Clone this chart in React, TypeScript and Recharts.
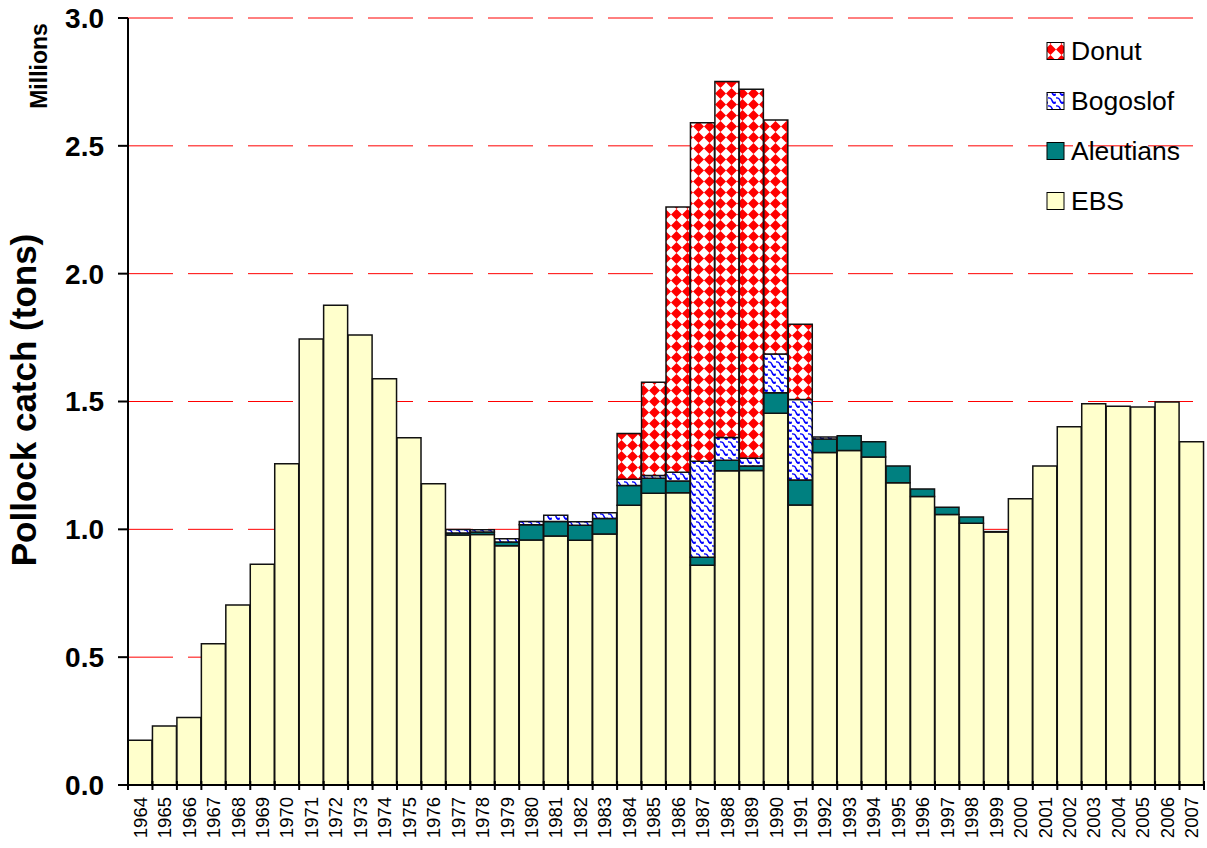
import React from 'react';
import { BarChart, Bar, XAxis, YAxis, CartesianGrid } from 'recharts';

const years = [
  '1964', '1965', '1966', '1967', '1968', '1969', '1970', '1971', '1972', '1973', '1974',
  '1975', '1976', '1977', '1978', '1979', '1980', '1981', '1982', '1983', '1984', '1985',
  '1986', '1987', '1988', '1989', '1990', '1991', '1992', '1993', '1994', '1995', '1996',
  '1997', '1998', '1999', '2000', '2001', '2002', '2003', '2004', '2005', '2006', '2007',
];

// Millions of tons
const ebs = [
  0.175, 0.231, 0.264, 0.552, 0.704, 0.863, 1.257, 1.744, 1.876, 1.760, 1.589,
  1.358, 1.178, 0.978, 0.980, 0.936, 0.958, 0.974, 0.957, 0.982, 1.094, 1.141,
  1.143, 0.860, 1.229, 1.230, 1.454, 1.095, 1.301, 1.308, 1.283, 1.182, 1.128,
  1.058, 1.024, 0.990, 1.120, 1.248, 1.401, 1.491, 1.481, 1.478, 1.498, 1.343,
];

const aleutians = [
  0, 0, 0, 0, 0, 0, 0, 0, 0, 0, 0,
  0, 0, 0.008, 0.010, 0.014, 0.060, 0.057, 0.059, 0.060, 0.077, 0.059,
  0.046, 0.031, 0.041, 0.018, 0.080, 0.098, 0.052, 0.058, 0.060, 0.066, 0.030,
  0.028, 0.024, 0.001, 0, 0, 0, 0, 0, 0, 0, 0,
];

const bogoslof = [
  0, 0, 0, 0, 0, 0, 0, 0, 0, 0, 0,
  0, 0, 0.013, 0.008, 0.013, 0.013, 0.024, 0.014, 0.023, 0.025, 0.011,
  0.034, 0.375, 0.089, 0.030, 0.152, 0.315, 0.008, 0, 0, 0, 0,
  0, 0, 0, 0, 0, 0, 0, 0, 0, 0, 0,
];

const donut = [
  0, 0, 0, 0, 0, 0, 0, 0, 0, 0, 0,
  0, 0, 0, 0, 0, 0, 0, 0, 0, 0.179, 0.364,
  1.038, 1.324, 1.393, 1.443, 0.915, 0.294, 0, 0, 0, 0, 0,
  0, 0, 0, 0, 0, 0, 0, 0, 0, 0, 0,
];

const yTicks = [0, 0.5, 1.0, 1.5, 2.0, 2.5, 3.0];

const legendItems = [
  { name: 'Donut', fill: 'url(#lg-donut)' },
  { name: 'Bogoslof', fill: 'url(#lg-bogoslof)' },
  { name: 'Aleutians', fill: '#008080' },
  { name: 'EBS', fill: '#FFFFCC' },
];

const data = years.map((year, i) => ({
  year,
  EBS: ebs[i],
  Aleutians: aleutians[i],
  Bogoslof: bogoslof[i],
  Donut: donut[i],
}));

const FONT = "Arial, 'Liberation Sans', sans-serif";

const PatternDefs = ({ prefix }: { prefix: string }) => (
  <defs>
    <pattern id={`${prefix}-donut`} patternUnits="userSpaceOnUse" width={11} height={11}>
      <rect x={0} y={0} width={11} height={11} fill="#FFFFFF" />
      <polygon points="5.5,0 11,5.5 5.5,11 0,5.5" fill="#FF0000" />
    </pattern>
    <pattern id={`${prefix}-bogoslof`} patternUnits="userSpaceOnUse" width={8} height={8}>
      <rect x={0} y={0} width={8} height={8} fill="#FFFFFF" />
      <path d="M0,2 Q3,1.5 4,4.5 T8,6" fill="none" stroke="#0000FF" strokeWidth={1.3} />
      <path d="M4,4.5 Q5,8 8,8" fill="none" stroke="#0000FF" strokeWidth={1.1} />
    </pattern>
  </defs>
);

const XTick = (props: any) => {
  const { x, y, payload, index, visibleTicksCount, width } = props;
  const band = width / visibleTicksCount;
  const left = x - band / 2;
  const right = x + band / 2;
  const ty = y + 12;
  return (
    <g>
      <line x1={left} y1={y - 4} x2={left} y2={y + 5} stroke="#000" strokeWidth={2} />
      {index === visibleTicksCount - 1 && (
        <line x1={right} y1={y - 4} x2={right} y2={y + 5} stroke="#000" strokeWidth={2} />
      )}
      <text
        x={x}
        y={ty}
        transform={`rotate(-90, ${x}, ${ty})`}
        textAnchor="end"
        dominantBaseline="central"
        fontSize={18.5}
        fontFamily={FONT}
        fill="#000"
      >
        {payload.value}
      </text>
    </g>
  );
};

export default function App() {
  return (
    <div style={{ position: 'absolute', left: 0, top: 0, width: 1207, height: 848, background: '#fff' }}>
      <BarChart
        width={1207}
        height={848}
        data={data}
        margin={{ top: 18, right: 3, bottom: 0, left: 0 }}
        barCategoryGap={0}
        barGap={0}
      >
        <PatternDefs prefix="pt" />
        <CartesianGrid vertical={false} stroke="#FF0000" strokeDasharray="45 15" />
        <XAxis
          dataKey="year"
          interval={0}
          height={63}
          tickLine={false}
          tickSize={0}
          tickMargin={0}
          axisLine={{ stroke: '#000', strokeWidth: 2 }}
          tick={<XTick />}
        />
        <YAxis
          width={128}
          domain={[0, 3]}
          ticks={yTicks}
          tickFormatter={(v: number) => v.toFixed(1)}
          tickSize={10}
          tickMargin={14}
          axisLine={{ stroke: '#000', strokeWidth: 2 }}
          tickLine={{ stroke: '#000', strokeWidth: 2 }}
          tick={{ fill: '#000', fontSize: 28, fontWeight: 'bold', fontFamily: FONT }}
        />
        <Bar dataKey="EBS" stackId="a" fill="#FFFFCC" stroke="#111" strokeWidth={1.5} isAnimationActive={false} />
        <Bar dataKey="Aleutians" stackId="a" fill="#008080" stroke="#111" strokeWidth={1.5} isAnimationActive={false} />
        <Bar dataKey="Bogoslof" stackId="a" fill="url(#pt-bogoslof)" stroke="#111" strokeWidth={1.5} isAnimationActive={false} />
        <Bar dataKey="Donut" stackId="a" fill="url(#pt-donut)" stroke="#111" strokeWidth={1.5} isAnimationActive={false} />
      </BarChart>
      <svg
        width={1207}
        height={848}
        style={{ position: 'absolute', left: 0, top: 0, pointerEvents: 'none' }}
      >
        <PatternDefs prefix="lg" />
        <text
          x={39}
          y={66}
          transform="rotate(-90, 39, 66)"
          textAnchor="middle"
          dominantBaseline="central"
          fontSize={23}
          fontWeight="bold"
          fontFamily={FONT}
          fill="#000"
        >
          Millions
        </text>
        <text
          x={23}
          y={400}
          transform="rotate(-90, 23, 400)"
          textAnchor="middle"
          dominantBaseline="central"
          fontSize={35}
          fontWeight="bold"
          fontFamily={FONT}
          fill="#000"
        >
          Pollock catch (tons)
        </text>
        {legendItems.map((item, i) => {
          const cy = 51 + i * 50;
          return (
            <g key={item.name}>
              <rect x={1047} y={cy - 8.5} width={17} height={17} fill={item.fill} stroke="#000" strokeWidth={1} />
              <text
                x={1071}
                y={cy}
                dominantBaseline="central"
                fontSize={26.5}
                fontFamily={FONT}
                fill="#000"
              >
                {item.name}
              </text>
            </g>
          );
        })}
      </svg>
    </div>
  );
}
